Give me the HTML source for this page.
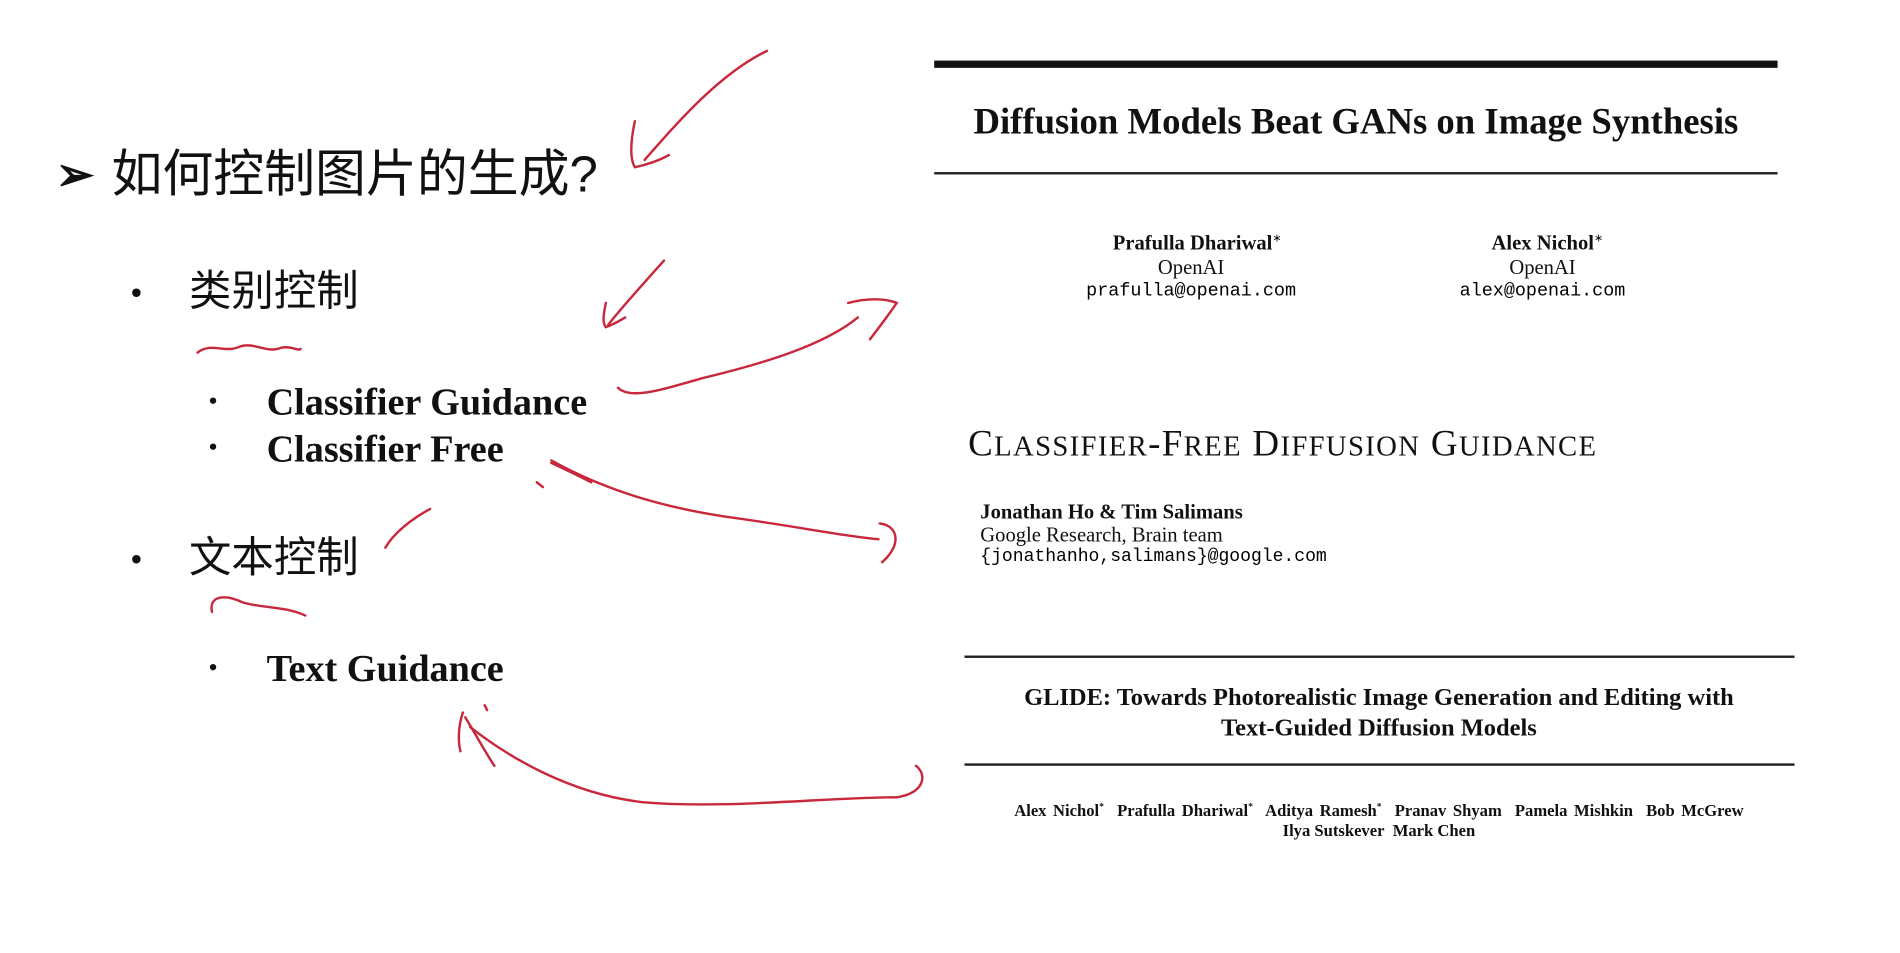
<!DOCTYPE html>
<html><head><meta charset="utf-8"><style>
html,body{margin:0;padding:0;background:#fff;overflow:hidden;width:1900px;height:953px}
#s{position:absolute;left:0;top:0;width:1568px;height:786px;transform:scale(1.2117);transform-origin:0 0;background:#fff}
.t{position:absolute;white-space:nowrap;line-height:1}
.cjk{font-family:"Liberation Sans","Noto Sans CJK SC",sans-serif;color:#111}
.ser{font-family:"Liberation Serif",serif;color:#111}
.c{transform:translateX(-50%);text-align:center}
</style></head><body><div id="s">
<div class="t cjk" style="left:46px;top:126px;font-size:38px;font-weight:bold">➢</div>
<div class="t cjk" style="left:92px;top:123px;font-size:42px">如何控制图片的生成?</div>
<div class="t cjk" style="left:108px;top:228px;font-size:26px">•</div>
<div class="t cjk" style="left:156px;top:223px;font-size:35px">类别控制</div>
<div class="t ser" style="left:172px;top:320px;font-size:22px">•</div>
<div class="t ser" style="left:220px;top:316px;font-size:31.5px;font-weight:bold">Classifier Guidance</div>
<div class="t ser" style="left:172px;top:358px;font-size:22px">•</div>
<div class="t ser" style="left:220px;top:355px;font-size:31.5px;font-weight:bold">Classifier Free</div>
<div class="t cjk" style="left:108px;top:448px;font-size:26px">•</div>
<div class="t cjk" style="left:156px;top:443px;font-size:35px">文本控制</div>
<div class="t ser" style="left:172px;top:540px;font-size:22px">•</div>
<div class="t ser" style="left:220px;top:536px;font-size:31.5px;font-weight:bold">Text Guidance</div>

<div style="position:absolute;left:771px;top:50px;width:696px;height:6px;background:#111"></div>
<div class="t ser c" style="left:1119px;top:85px;font-size:30.3px;font-weight:bold">Diffusion Models Beat GANs on Image Synthesis</div>
<div style="position:absolute;left:771px;top:142px;width:696px;height:2px;background:#222"></div>
<div class="t ser c" style="left:988px;top:192px;font-size:17px;font-weight:bold">Prafulla Dhariwal<sup style="font-size:9px;font-weight:normal">∗</sup></div>
<div class="t ser c" style="left:983px;top:212px;font-size:17px">OpenAI</div>
<div class="t c" style="left:983px;top:233px;font-size:15.2px;font-family:'Liberation Mono',monospace">prafulla@openai.com</div>
<div class="t ser c" style="left:1277px;top:192px;font-size:17px;font-weight:bold">Alex Nichol<sup style="font-size:9px;font-weight:normal">∗</sup></div>
<div class="t ser c" style="left:1273px;top:212px;font-size:17px">OpenAI</div>
<div class="t c" style="left:1273px;top:233px;font-size:15.2px;font-family:'Liberation Mono',monospace">alex@openai.com</div>

<div class="t ser" style="left:799px;top:351px;font-size:30.5px;letter-spacing:1.1px">C<span style="font-size:23.7px">LASSIFIER</span>-F<span style="font-size:23.7px">REE</span> D<span style="font-size:23.7px">IFFUSION</span> G<span style="font-size:23.7px">UIDANCE</span></div>
<div class="t ser" style="left:809px;top:414px;font-size:17px;font-weight:bold">Jonathan Ho &amp; Tim Salimans</div>
<div class="t ser" style="left:809px;top:433px;font-size:17px">Google Research, Brain team</div>
<div class="t" style="left:809px;top:453px;font-size:14.9px;font-family:'Liberation Mono',monospace">{jonathanho,salimans}@google.com</div>

<div style="position:absolute;left:796px;top:541px;width:685px;height:1.5px;background:#222"></div>
<div class="t ser c" style="left:1138px;top:566px;font-size:20.2px;font-weight:bold">GLIDE: Towards Photorealistic Image Generation and Editing with</div>
<div class="t ser c" style="left:1138px;top:591px;font-size:20.2px;font-weight:bold">Text-Guided Diffusion Models</div>
<div style="position:absolute;left:796px;top:630px;width:685px;height:1.5px;background:#222"></div>
<div class="t ser c" style="left:1138px;top:662px;font-size:13.7px;font-weight:bold;word-spacing:2px">Alex Nichol<sup style="font-size:8px">*</sup>&nbsp; Prafulla Dhariwal<sup style="font-size:8px">*</sup>&nbsp; Aditya Ramesh<sup style="font-size:8px">*</sup>&nbsp; Pranav Shyam&nbsp; Pamela Mishkin&nbsp; Bob McGrew</div>
<div class="t ser c" style="left:1138px;top:679px;font-size:13.7px;font-weight:bold">Ilya Sutskever&nbsp; Mark Chen</div>

<svg width="1568" height="786" style="position:absolute;left:0;top:0" fill="none" stroke="#c8283c" stroke-width="2" stroke-linecap="round">
<path d="M633,42 C595,60 560,100 532,132"/>
<path d="M524,100 C520,118 520,132 524,138 C534,136 545,132 552,128"/>
<path d="M548,215 C530,235 512,255 502,268"/>
<path d="M500,250 C498,260 497,266 500,270 C506,268 511,265 516,262"/>
<path d="M510,320 C520,330 545,322 580,312 C630,300 680,285 708,262"/>
<path d="M700,250 C715,246 730,246 740,250 C732,262 724,272 718,280"/>
<path d="M455,380 C500,405 550,420 610,428 C660,435 700,443 725,445"/>
<path d="M726,432 C742,434 744,450 728,464"/>
<path d="M455,382 C468,388 480,394 488,398"/>
<path d="M443,398 L448,402"/>
<path d="M355,420 C340,428 325,440 318,452"/>
<path d="M163,291 C175,282 185,292 198,286 C210,282 220,292 232,287 C240,285 246,290 248,288"/>
<path d="M175,505 C172,492 185,490 200,497 C215,502 235,500 252,508"/>
<path d="M388,600 C420,625 470,655 530,662 C600,668 680,658 740,658 C762,655 766,640 756,632"/>
<path d="M382,588 C378,600 378,612 380,620 M384,592 C392,605 400,620 408,632"/>
<path d="M400,582 L402,586"/>
</svg>
</div></body></html>
